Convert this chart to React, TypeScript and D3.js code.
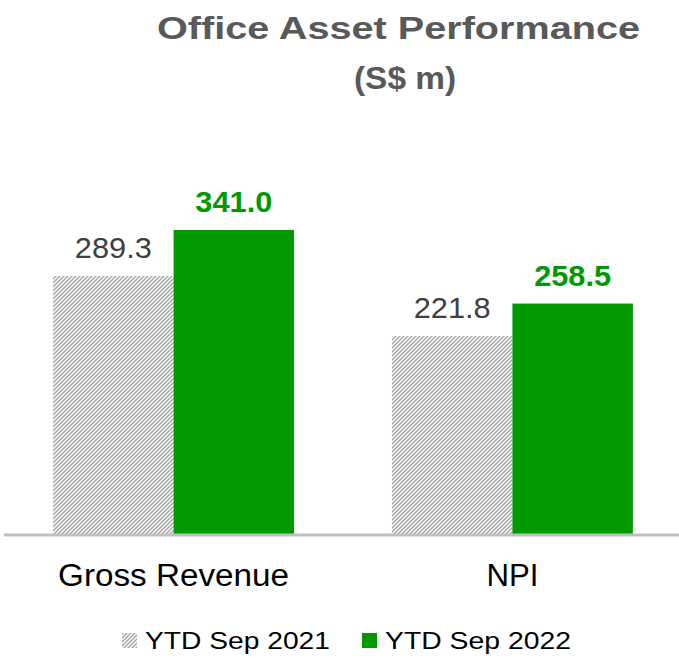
import React from "react";
import * as d3 from "d3";

const categories = ["Gross Revenue", "NPI"];
const seriesNames = ["YTD Sep 2021", "YTD Sep 2022"];
const values2021 = [289.3, 221.8];
const values2022 = [341.0, 258.5];
const labels2021 = ["289.3", "221.8"];
const labels2022 = ["341.0", "258.5"];

const W = 679;
const H = 658;
const GREEN = "#009900";
const HATCH = "#a6a6a6";
const FONT = "'Liberation Sans', Arial, sans-serif";

export default function App() {
  const x = d3
    .scaleBand<string>()
    .domain(categories)
    .range([4, 682])
    .paddingInner(0.289)
    .paddingOuter(0.145);
  const inner = d3
    .scaleBand<string>()
    .domain(seriesNames)
    .range([0, x.bandwidth()])
    .padding(0);
  const y = d3.scaleLinear().domain([0, 400]).range([534, 177.4]);

  const series = [
    { name: seriesNames[0], values: values2021, labels: labels2021 },
    { name: seriesNames[1], values: values2022, labels: labels2022 },
  ];

  return (
    <svg
      width={W}
      height={H}
      style={{ position: "absolute", left: 0, top: 0, background: "#fff" }}
      fontFamily={FONT}
    >
      <defs>
        <pattern id="hatch" patternUnits="userSpaceOnUse" width="4" height="4">
          <rect width="4" height="4" fill="#fff" />
          <path
            d="M-1,1 l2,-2 M0,4 l4,-4 M3,5 l2,-2"
            stroke={HATCH}
            strokeWidth="1.5"
          />
        </pattern>
      </defs>
      <rect width={W} height={H} fill="#fff" />
      <text
        x={398.5}
        y={39}
        textAnchor="middle"
        fontSize={32}
        fontWeight="bold"
        fill="#595959"
        textLength={483}
        lengthAdjust="spacingAndGlyphs"
      >
        Office Asset Performance
      </text>
      <text
        x={405}
        y={89}
        textAnchor="middle"
        fontSize={32}
        fontWeight="bold"
        fill="#595959"
        textLength={102}
        lengthAdjust="spacingAndGlyphs"
      >
        (S$ m)
      </text>

      {series.map((s, si) =>
        categories.map((c, ci) => {
          const bx = (x(c) ?? 0) + (inner(s.name) ?? 0);
          const bw = inner.bandwidth();
          const by = y(s.values[ci]);
          return (
            <g key={s.name + c}>
              <rect
                x={bx}
                y={by}
                width={bw}
                height={y(0) - by}
                fill={si === 0 ? "url(#hatch)" : GREEN}
              />
              <text
                x={bx + bw / 2}
                y={by - 18}
                textAnchor="middle"
                fontSize={30}
                fontWeight={si === 0 ? "normal" : "bold"}
                fill={si === 0 ? "#404040" : GREEN}
                textLength={77}
                lengthAdjust="spacingAndGlyphs"
              >
                {s.labels[ci]}
              </text>
            </g>
          );
        })
      )}

      <line x1={4} x2={679} y1={y(0) + 1} y2={y(0) + 1} stroke="#bfbfbf" strokeWidth={3} />

      {categories.map((c, i) => (
        <text
          key={c}
          x={(x(c) ?? 0) + x.bandwidth() / 2}
          y={586}
          textAnchor="middle"
          fontSize={31}
          fill="#000"
          textLength={i === 0 ? 231 : 52}
          lengthAdjust="spacingAndGlyphs"
        >
          {c}
        </text>
      ))}

      {seriesNames.map((n, i) => {
        const sx = i === 0 ? 122 : 362;
        return (
          <g key={n}>
            <rect
              x={sx}
              y={633}
              width={15}
              height={15}
              fill={i === 0 ? "url(#hatch)" : GREEN}
            />
            <text
              x={sx + 23}
              y={649}
              fontSize={24}
              fill="#000"
              textLength={i === 0 ? 185 : 186}
              lengthAdjust="spacingAndGlyphs"
            >
              {n}
            </text>
          </g>
        );
      })}
    </svg>
  );
}
